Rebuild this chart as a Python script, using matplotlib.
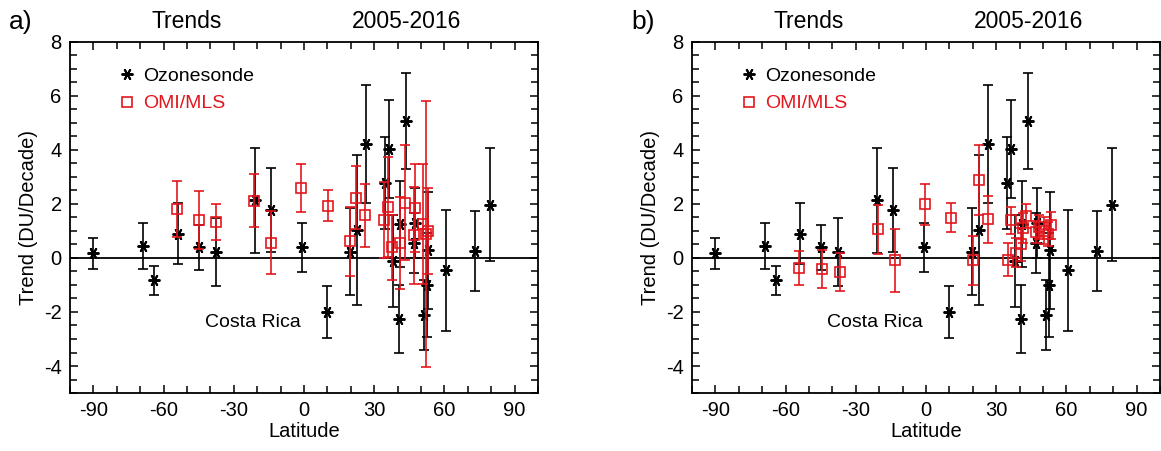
import numpy as np
import matplotlib
matplotlib.use("Agg")
import matplotlib.pyplot as plt
from matplotlib.lines import Line2D
from matplotlib.ticker import MultipleLocator

plt.rcParams['font.family'] = ['Liberation Sans', 'DejaVu Sans']
plt.rcParams['axes.unicode_minus'] = False

RED = '#e3161e'

# ozonesonde stations (same in both panels)
sonde_lat = [-90, -69, -64, -54, -45, -37.5, -21, -14, -1, 10, 19.5, 22.5, 26.3,
             34.6, 36.4, 38.2, 40.5, 40.9, 43.6, 46.9, 47.6, 51.2, 52.6, 52.9,
             60.8, 73, 79.7]
sonde_trend = [0.17, 0.43, -0.83, 0.9, 0.4, 0.21, 2.13, 1.79, 0.39, -2.0, 0.24, 1.03, 4.22,
               2.77, 4.03, -0.1, -2.25, 1.27, 5.07, 0.56, 1.3, -2.12, -1.0, 0.29,
               -0.46, 0.25, 1.98]
sonde_err = [0.58, 0.85, 0.55, 1.13, 0.84, 1.26, 1.93, 1.56, 0.9, 0.97, 1.62, 2.78, 2.18,
             1.7, 1.81, 1.7, 1.25, 1.6, 1.77, 1.1, 1.3, 1.3, 1.93, 2.17,
             2.23, 1.48, 2.1]

# OMI/MLS, panel a
omi_a_lat = [-54.4, -45, -37.5, -21.2, -14, -1.2, 10.2, 19.6, 22.2, 26.2,
             34.4, 36.0, 37.8, 41.2, 43.0, 46.8, 47.4, 50.9, 52.3, 52.8]
omi_a_trend = [1.8, 1.41, 1.33, 2.12, 0.57, 2.59, 1.93, 0.62, 2.24, 1.58,
               1.4, 1.9, 0.4, 0.55, 2.05, 0.84, 1.85, 1.27, 0.9, 1.0]
omi_a_err = [1.04, 1.08, 0.67, 0.99, 1.17, 0.89, 0.57, 1.27, 1.17, 1.16,
             1.4, 1.85, 1.2, 1.7, 2.13, 1.79, 1.64, 2.22, 4.93, 1.6]

# OMI/MLS, panel b
omi_b_lat = [-54.3, -44.6, -36.8, -20.7, -13.3, -0.6, 10.5, 20.0, 22.8, 26.6,
             34.9, 36.3, 38.4, 40.4, 41.3, 42.8, 46.9, 48.4, 50.5, 52.0, 53.3]
omi_b_trend = [-0.37, -0.42, -0.52, 1.06, -0.09, 1.99, 1.49, -0.09, 2.88, 1.43,
               -0.06, 1.4, 0.2, 0.5, 1.1, 1.55, 0.96, 1.15, 1.0, 0.88, 1.22]
omi_b_err = [0.62, 0.7, 0.72, 0.92, 1.18, 0.76, 0.54, 0.9, 1.3, 0.88,
             0.62, 0.5, 0.55, 0.6, 0.55, 0.45, 0.4, 0.45, 0.5, 0.45, 0.5]

panels = [('a)', omi_a_lat, omi_a_trend, omi_a_err, 70),
          ('b)', omi_b_lat, omi_b_trend, omi_b_err, 692)]

W, H = 1161, 451
fig = plt.figure(figsize=(W / 100, H / 100), dpi=100)

star = (6, 2, 90)

for tag, olat, otr, oerr, x0 in panels:
    ax = fig.add_axes([x0 / W, 1 - 393 / H, 468 / W, 351 / H])
    ax.axhline(0, color='black', lw=1.3, zorder=1)
    ax.errorbar(sonde_lat, sonde_trend, yerr=sonde_err, fmt='none',
                ecolor='black', elinewidth=1.2, capsize=3.5, capthick=1.2, zorder=2)
    ax.plot(sonde_lat, sonde_trend, ls='none', marker=star, ms=8.5,
            mew=1.4, color='black', zorder=3)
    ax.errorbar(olat, otr, yerr=oerr, fmt='none', ecolor=RED,
                elinewidth=1.2, capsize=3.5, capthick=1.2, zorder=4)
    ax.plot(olat, otr, ls='none', marker='s', ms=7, mfc='none', mec=RED,
            mew=1.2, zorder=5)

    ax.set_xlim(-100, 100)
    ax.set_ylim(-5, 8)
    ax.xaxis.set_major_locator(MultipleLocator(30))
    ax.xaxis.set_minor_locator(MultipleLocator(10))
    ax.yaxis.set_major_locator(MultipleLocator(2))
    ax.yaxis.set_minor_locator(MultipleLocator(0.5))
    ax.tick_params(which='both', direction='in', top=True, right=True,
                   labelsize=14.5, width=1.1)
    ax.tick_params(which='major', length=6, pad=6)
    ax.tick_params(which='minor', length=5)
    for s in ax.spines.values():
        s.set_linewidth(1.3)
    ax.set_xlabel('Latitude', fontsize=14.5, labelpad=1)
    ax.set_ylabel('Trend (DU/Decade)', fontsize=14.5, labelpad=4)

    ax.text(-0.105, 1.058, tag, transform=ax.transAxes, fontsize=19,
            ha='center', va='center')
    ax.text(0.25, 1.058, 'Trends', transform=ax.transAxes, fontsize=16.5,
            ha='center', va='center')
    ax.text(0.72, 1.058, '2005-2016', transform=ax.transAxes, fontsize=16.5,
            ha='center', va='center')
    ax.text(-1.5, -2.4, 'Costa Rica', fontsize=14, ha='right', va='center')

    handles = [Line2D([], [], ls='none', marker=star, ms=8.5, mew=1.4, color='black'),
               Line2D([], [], ls='none', marker='s', ms=7, mfc='none', mec=RED, mew=1.2)]
    leg = ax.legend(handles, ['Ozonesonde', 'OMI/MLS'], loc='upper left',
                    bbox_to_anchor=(0.085, 0.955), frameon=False, fontsize=14,
                    handlelength=0.8, handletextpad=0.4, labelspacing=0.5,
                    borderpad=0)
    leg.get_texts()[1].set_color(RED)

fig.savefig('out.png', dpi=100)
